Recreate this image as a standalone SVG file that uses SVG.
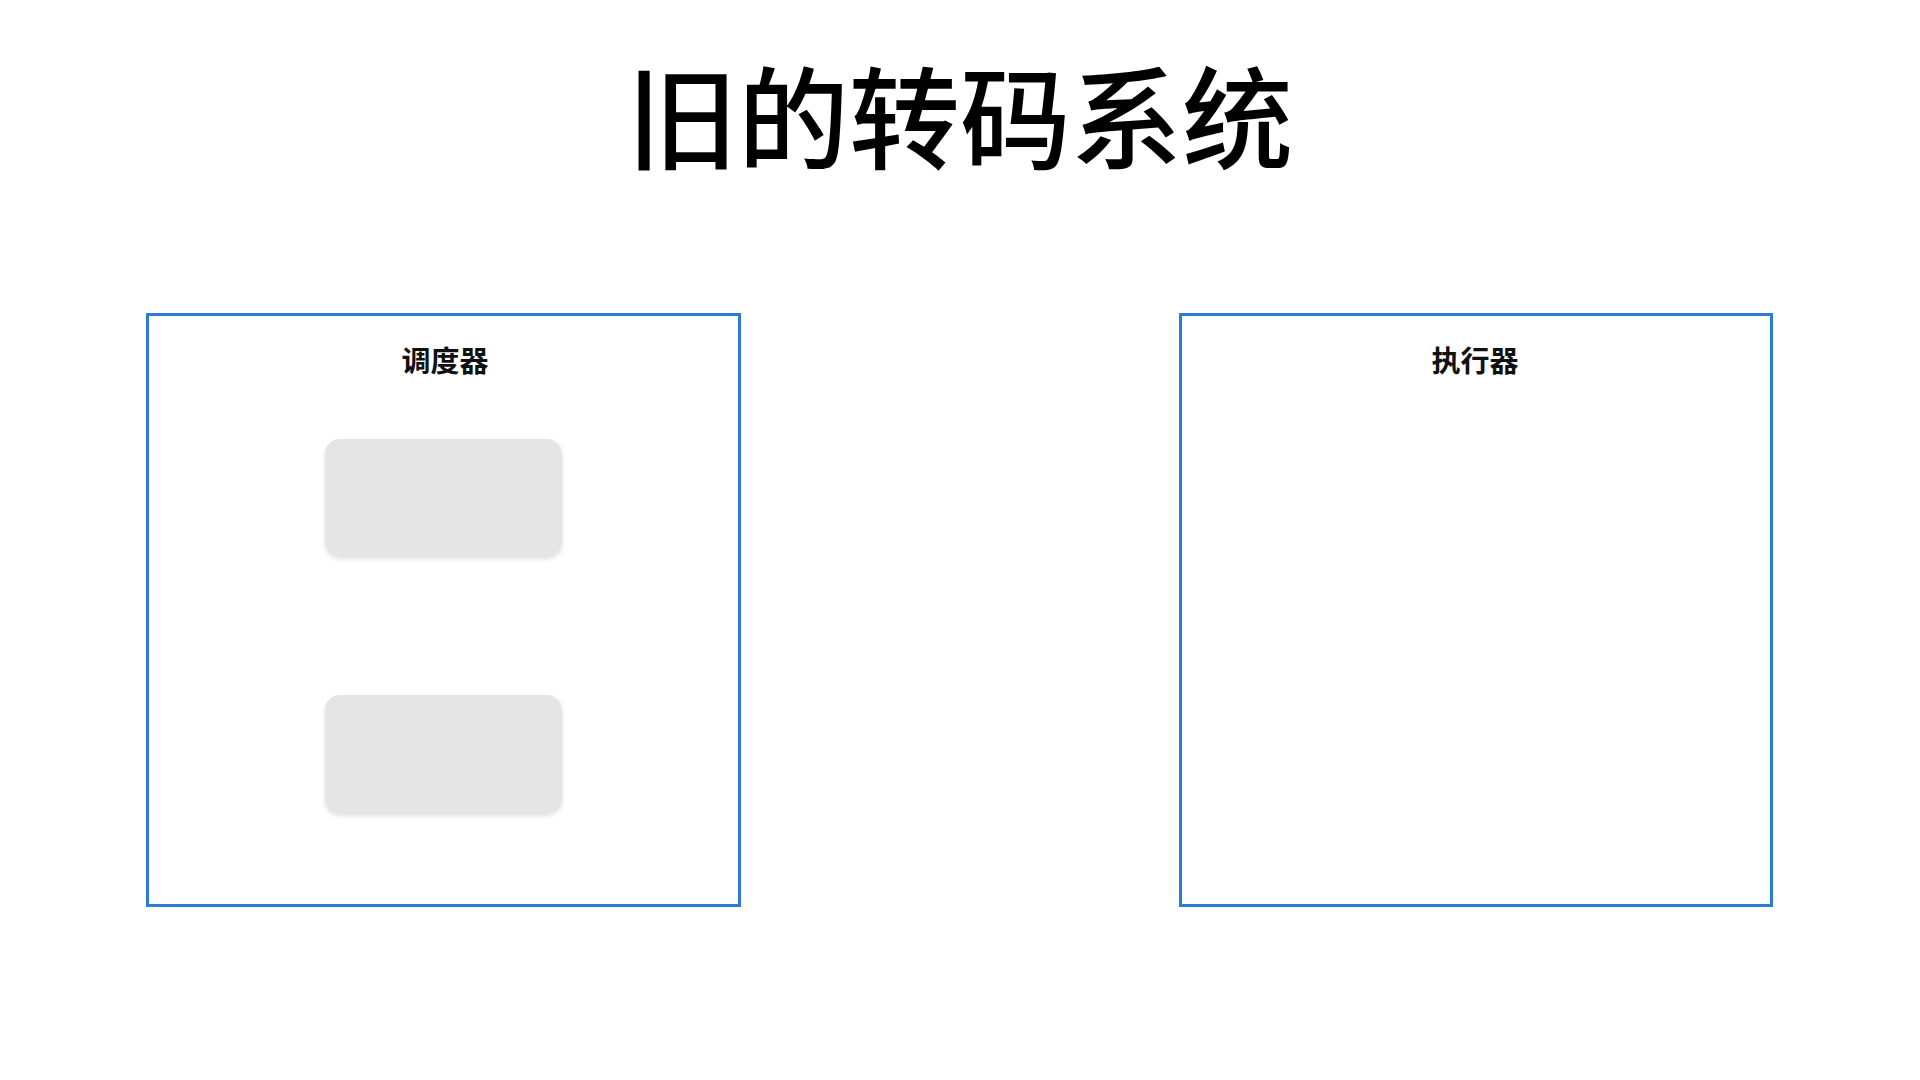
<svg xmlns="http://www.w3.org/2000/svg" width="1920" height="1080" viewBox="0 0 1920 1080">
  <style>
    .title { font-family: "Noto Sans CJK SC", "Noto Sans", sans-serif; font-weight: 500; font-size: 111px; fill: #000; text-anchor: middle; }
    .label { font-family: "Noto Sans CJK SC", "Noto Sans", sans-serif; font-weight: 700; font-size: 29px; fill: #111; text-anchor: middle; }
    .container { fill: #fff; stroke: #2d7bd8; stroke-width: 3; }
    .card { fill: #e5e5e5; filter: url(#shadow); }
  </style>
  <defs>
    <filter id="shadow" x="-10%" y="-10%" width="120%" height="130%">
      <feDropShadow dx="0" dy="2" stdDeviation="2" flood-color="#000" flood-opacity="0.12"/>
    </filter>
  </defs>
  <rect x="0" y="0" width="1920" height="1080" fill="#fff"/>
  <text class="title" x="960" y="161">旧的转码系统</text>

  <g id="scheduler">
    <rect class="container" x="147.5" y="314.5" width="592" height="591"/>
    <text class="label" x="445" y="372">调度器</text>
  </g>
  <g id="scheduler-item-1">
    <rect class="card" x="325" y="439" width="237" height="118" rx="15"/>
  </g>
  <g id="scheduler-item-2">
    <rect class="card" x="325" y="695" width="237" height="119" rx="15"/>
  </g>

  <g id="executor">
    <rect class="container" x="1180.5" y="314.5" width="591" height="591"/>
    <text class="label" x="1475" y="372">执行器</text>
  </g>

  <g id="connectors"></g>
</svg>
